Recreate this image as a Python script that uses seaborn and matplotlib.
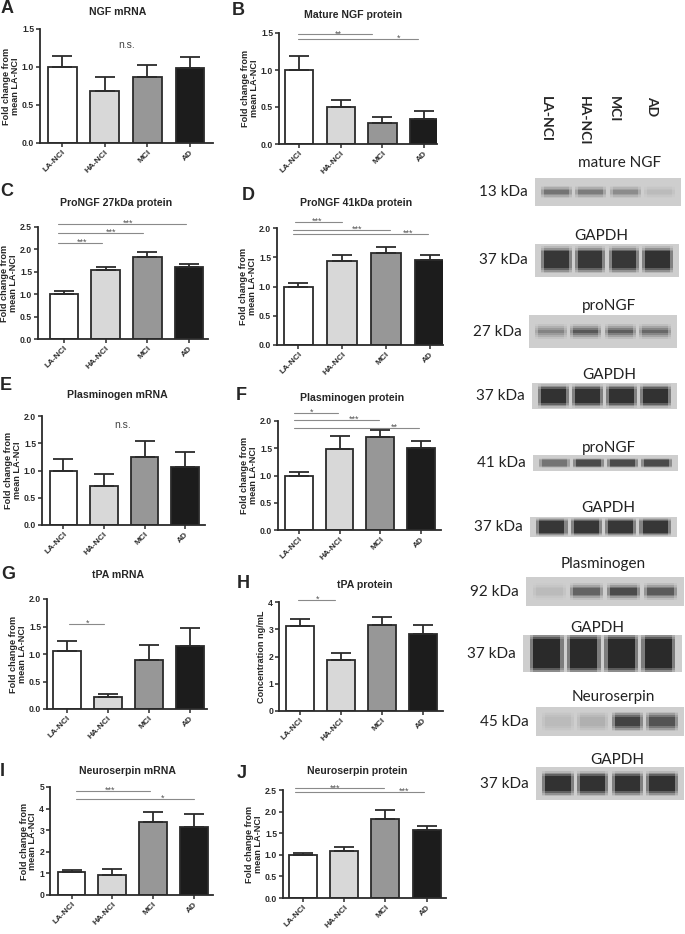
import numpy as np
import pandas as pd
import seaborn as sns
import matplotlib.pyplot as plt
from matplotlib.colors import LinearSegmentedColormap

# groups and fill colours (Prism style)
groups = ["LA-NCI", "HA-NCI", "MCI", "AD"]
bar_colors = ["#ffffff", "#d8d8d8", "#979797", "#1c1c1c"]

# mean fold change and SEM (only the upper half of the error bar is drawn)
ngf_mrna = [1.00, 0.69, 0.87, 0.99]
ngf_mrna_sem = [0.14, 0.18, 0.16, 0.14]
ngf_protein = [1.00, 0.50, 0.29, 0.34]
ngf_protein_sem = [0.19, 0.10, 0.07, 0.11]
prongf27 = [1.00, 1.54, 1.82, 1.60]
prongf27_sem = [0.07, 0.07, 0.13, 0.07]
prongf41 = [1.00, 1.44, 1.58, 1.45]
prongf41_sem = [0.06, 0.09, 0.09, 0.09]
plg_mrna = [1.00, 0.72, 1.25, 1.06]
plg_mrna_sem = [0.22, 0.21, 0.30, 0.28]
plg_protein = [1.00, 1.49, 1.70, 1.51]
plg_protein_sem = [0.06, 0.24, 0.13, 0.13]
tpa_mrna = [1.05, 0.22, 0.89, 1.14]
tpa_mrna_sem = [0.19, 0.05, 0.28, 0.33]
tpa_protein = [3.13, 1.86, 3.15, 2.81]
tpa_protein_sem = [0.26, 0.26, 0.30, 0.33]
nsp_mrna = [1.06, 0.94, 3.38, 3.17]
nsp_mrna_sem = [0.10, 0.25, 0.47, 0.60]
nsp_protein = [1.00, 1.09, 1.82, 1.58]
nsp_protein_sem = [0.05, 0.08, 0.22, 0.08]

# significance bars: (x start, x end, y, stars, star x)
sig_b = [(-0.02, 1.74, 1.48, "**", 0.94), (-0.02, 2.86, 1.42, "*", 2.38)]
sig_c = [(-0.15, 0.92, 2.14, "***", 0.43), (-0.15, 1.90, 2.37, "***", 1.12),
         (-0.15, 2.93, 2.57, "***", 1.53)]
sig_d = [(-0.08, 1.00, 2.10, "***", 0.42), (-0.12, 2.10, 1.97, "***", 1.35),
         (-0.12, 2.96, 1.90, "***", 2.50)]
sig_f = [(-0.12, 0.96, 2.15, "*", 0.31), (-0.12, 1.97, 2.02, "***", 1.35),
         (-0.12, 2.95, 1.88, "**", 2.34)]
sig_g = [(0.04, 0.91, 1.55, "*", 0.50)]
sig_h = [(-0.04, 0.87, 4.09, "*", 0.44)]
sig_i = [(0.12, 1.93, 4.83, "***", 0.94), (0.12, 3.00, 4.45, "*", 2.24)]
sig_j = [(-0.20, 1.97, 2.54, "***", 0.77), (-0.20, 2.94, 2.46, "***", 2.44)]

# western blots: band darkness per lane (0 = background, 1 = black)
blot_titles = ["mature NGF", "GAPDH", "proNGF", "GAPDH", "proNGF", "GAPDH",
               "Plasminogen", "GAPDH", "Neuroserpin", "GAPDH"]
blot_kda = ["13 kDa", "37 kDa", "27 kDa", "37 kDa", "41 kDa", "37 kDa",
            "92 kDa", "37 kDa", "45 kDa", "37 kDa"]
blot_lanes = [[0.55, 0.50, 0.40, 0.12],
              [0.92, 0.92, 0.92, 0.95],
              [0.45, 0.72, 0.68, 0.62],
              [0.95, 0.95, 0.95, 0.95],
              [0.55, 0.80, 0.80, 0.80],
              [0.92, 0.92, 0.92, 0.92],
              [0.12, 0.65, 0.80, 0.70],
              [1.00, 1.00, 1.00, 1.00],
              [0.12, 0.18, 0.85, 0.75],
              [0.95, 0.95, 0.95, 0.95]]
# band thickness in rows of an 18-row grid
blot_band_rows = [2, 9, 2, 10, 6, 10, 4, 14, 6, 8]

W, H = 685, 934

sns.set_theme(style="ticks")
plt.rcParams["font.family"] = ["Liberation Sans", "DejaVu Sans"]

fig = plt.figure(figsize=(W / 100, H / 100), dpi=100)


def px_rect(l, t, r, b):
    return [l / W, 1 - b / H, (r - l) / W, (b - t) / H]


ylab = "Fold change from\nmean LA-NCI"
panels = [
    dict(letter="A", title="NGF mRNA", mean=ngf_mrna, sem=ngf_mrna_sem,
         yticks=[0, 0.5, 1.0, 1.5], ylabel=ylab, sig=[], ns=(1.52, 1.29),
         rect=(40, 29, 213, 143), xlim=(-0.52, 3.54), tpos=(118, 12), lpos=(1, 0)),
    dict(letter="B", title="Mature NGF protein", mean=ngf_protein, sem=ngf_protein_sem,
         yticks=[0, 0.5, 1.0, 1.5], ylabel=ylab, sig=sig_b, ns=None,
         rect=(279, 33, 437, 144), xlim=(-0.48, 3.31), tpos=(353, 15), lpos=(232, 2)),
    dict(letter="C", title="ProNGF 27kDa protein", mean=prongf27, sem=prongf27_sem,
         yticks=[0, 0.5, 1.0, 1.5, 2.0, 2.5], ylabel=ylab, sig=sig_c, ns=None,
         rect=(38, 227, 208, 339), xlim=(-0.62, 3.45), tpos=(116, 203), lpos=(0, 183)),
    dict(letter="D", title="ProNGF 41kDa protein", mean=prongf41, sem=prongf41_sem,
         yticks=[0, 0.5, 1.0, 1.5, 2.0], ylabel=ylab, sig=sig_d, ns=None,
         rect=(277, 228, 443, 345), xlim=(-0.49, 3.30), tpos=(356, 203), lpos=(242, 187)),
    dict(letter="E", title="Plasminogen mRNA", mean=plg_mrna, sem=plg_mrna_sem,
         yticks=[0, 0.5, 1.0, 1.5, 2.0], ylabel=ylab, sig=[], ns=(1.47, 1.83),
         rect=(42, 416, 205, 525), xlim=(-0.53, 3.49), tpos=(117, 395), lpos=(0, 377)),
    dict(letter="F", title="Plasminogen protein", mean=plg_protein, sem=plg_protein_sem,
         yticks=[0, 0.5, 1.0, 1.5, 2.0], ylabel=ylab, sig=sig_f, ns=None,
         rect=(278, 421, 441, 530), xlim=(-0.51, 3.49), tpos=(352, 398), lpos=(236, 387)),
    dict(letter="G", title="tPA mRNA", mean=tpa_mrna, sem=tpa_mrna_sem,
         yticks=[0, 0.5, 1.0, 1.5, 2.0], ylabel=ylab, sig=sig_g, ns=None,
         rect=(47, 599, 207, 709), xlim=(-0.49, 3.41), tpos=(118, 575), lpos=(1, 566)),
    dict(letter="H", title="tPA protein", mean=tpa_protein, sem=tpa_protein_sem,
         yticks=[0, 1, 2, 3, 4], ylabel="Concentration ng/mL", sig=sig_h, ns=None,
         rect=(279, 602, 443, 711), xlim=(-0.50, 3.49), tpos=(365, 585), lpos=(237, 575)),
    dict(letter="I", title="Neuroserpin mRNA", mean=nsp_mrna, sem=nsp_mrna_sem,
         yticks=[0, 1, 2, 3, 4, 5], ylabel=ylab, sig=sig_i, ns=None,
         rect=(50, 787, 213, 895), xlim=(-0.53, 3.47), tpos=(128, 771), lpos=(0, 763)),
    dict(letter="J", title="Neuroserpin protein", mean=nsp_protein, sem=nsp_protein_sem,
         yticks=[0, 0.5, 1.0, 1.5, 2.0, 2.5], ylabel=ylab, sig=sig_j, ns=None,
         rect=(283, 790, 446, 898), xlim=(-0.49, 3.47), tpos=(357, 771), lpos=(237, 765)),
]

for p in panels:
    ax = fig.add_axes(px_rect(*p["rect"]))
    df = pd.DataFrame({"group": groups, "value": p["mean"]})
    sns.barplot(data=df, x="group", y="value", hue="group", palette=bar_colors,
                saturation=1, edgecolor="#2b2b2b", linewidth=1.3, width=0.68,
                legend=False, ax=ax)
    ax.errorbar(np.arange(4), p["mean"], yerr=[np.zeros(4), p["sem"]], fmt="none",
                ecolor="#2b2b2b", elinewidth=1.3, capsize=7, capthick=1.3, zorder=3)
    ax.set_xlim(*p["xlim"])
    ax.set_ylim(0, p["yticks"][-1])
    ax.set_yticks(p["yticks"])
    if isinstance(p["yticks"][1], float):
        ylabels = [f"{v:.1f}" for v in p["yticks"]]
    else:
        ylabels = [str(v) for v in p["yticks"]]
    ax.set_yticklabels(ylabels, fontsize=6.2, fontweight="bold")
    ax.set_xticks(range(4))
    ax.set_xticklabels(groups, rotation=45, ha="right", rotation_mode="anchor",
                       fontsize=6.0, fontweight="bold")
    ax.set_xlabel("")
    ax.set_ylabel(p["ylabel"], fontsize=6.6, fontweight="bold", labelpad=1.5,
                  linespacing=0.95)
    sns.despine(ax=ax)
    for s in ("left", "bottom"):
        ax.spines[s].set_linewidth(1.3)
        ax.spines[s].set_color("#2b2b2b")
    ax.tick_params(length=3, width=1.1, pad=1.2, colors="#2b2b2b")

    for x0, x1, y, txt, tx in p["sig"]:
        ax.plot([x0, x1], [y, y], color="#8a8a8a", lw=0.8, clip_on=False)
        ax.annotate(txt, (tx, y), xytext=(0, -1.5), textcoords="offset points",
                    ha="center", va="baseline", fontsize=6.5, color="#555555",
                    annotation_clip=False)
    if p["ns"] is not None:
        ax.text(p["ns"][0], p["ns"][1], "n.s.", ha="center", va="center",
                fontsize=7.5, color="#444444")

    fig.text(p["tpos"][0] / W, 1 - p["tpos"][1] / H, p["title"], ha="center",
             va="center", fontsize=7.6, fontweight="bold")
    fig.text(p["lpos"][0] / W, 1 - p["lpos"][1] / H, p["letter"], ha="left",
             va="top", fontsize=13, fontweight="bold")

# ---- western blots (right column) ----
blot_rects = [(535, 178, 681, 206), (535, 244, 679, 277), (529, 315, 677, 348),
              (532, 383, 677, 409), (533, 455, 678, 471), (530, 517, 677, 537),
              (526, 577, 684, 606), (523, 635, 682, 672), (536, 707, 684, 736),
              (536, 767, 684, 800)]
blot_title_pos = [(620, 163), (601, 236), (609, 306), (609, 375), (609, 448),
                  (608, 508), (603, 564), (597, 628), (613, 697), (617, 760)]
lane_label_x = [546, 584, 614, 652]

blot_cmap = LinearSegmentedColormap.from_list("blot", ["#cecece", "#2a2a2a"])
n_rows = 18
edge = [0.7, 0.4, 0.15]

for lanes, band, rect, title, tpos, kda in zip(blot_lanes, blot_band_rows, blot_rects,
                                               blot_titles, blot_title_pos, blot_kda):
    # row profile: solid core fading out above and below
    profile = np.zeros(n_rows)
    start = (n_rows - band) // 2
    profile[start:start + band] = 1.0
    for k, f in enumerate(edge):
        if start - 1 - k >= 0:
            profile[start - 1 - k] = f
        if start + band + k < n_rows:
            profile[start + band + k] = f
    cols = [0.0, 0.0]
    for v in lanes:
        cols += [0.5 * v] + [v] * 8 + [0.5 * v] + [0.0]
    cols += [0.0]
    mat = np.outer(profile, cols)
    bax = fig.add_axes(px_rect(*rect))
    sns.heatmap(mat, ax=bax, cmap=blot_cmap, vmin=0, vmax=1, cbar=False,
                xticklabels=False, yticklabels=False, linewidths=0)
    fig.text(tpos[0] / W, 1 - tpos[1] / H, title, ha="center", va="center",
             fontsize=11, family=["Lato", "DejaVu Sans"], color="#222222")
    fig.text((rect[0] - 7) / W, 1 - (rect[1] + rect[3]) / 2 / H, kda, ha="right",
             va="center", fontsize=11, family=["Lato", "DejaVu Sans"], color="#222222")

for x, name in zip(lane_label_x, groups):
    fig.text(x / W, 1 - 96 / H, name, rotation=270, ha="center", va="top",
             fontsize=10, fontweight="bold", family=["Lato", "DejaVu Sans"])

fig.savefig("out.png", dpi=100)
